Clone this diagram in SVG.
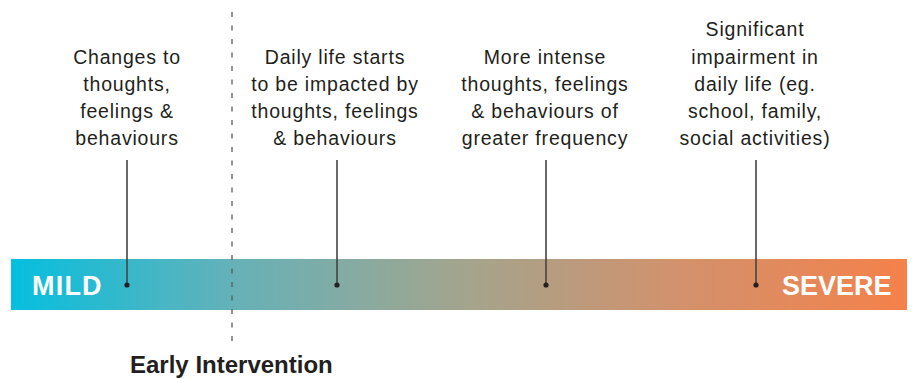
<svg xmlns="http://www.w3.org/2000/svg" width="915" height="379" viewBox="0 0 915 379">
  <defs>
    <linearGradient id="severity" x1="0" y1="0" x2="1" y2="0">
      <stop offset="0" stop-color="#05bfdf"/>
      <stop offset="0.25" stop-color="#66b1b8"/>
      <stop offset="0.5" stop-color="#a2a58e"/>
      <stop offset="0.75" stop-color="#d3916c"/>
      <stop offset="1" stop-color="#f5814a"/>
    </linearGradient>
    <style>
      .label { font-family: "Liberation Sans", Arial, sans-serif; font-size: 19.5px; letter-spacing: 0.8px; fill: #231f20; text-anchor: middle; }
      .end { font-family: "Liberation Sans", Arial, sans-serif; font-size: 27px; font-weight: bold; fill: #ffffff; }
      .title { font-family: "Liberation Sans", Arial, sans-serif; font-size: 24px; font-weight: bold; fill: #231f20; }
      .leader { stroke: #444444; stroke-width: 1.6; fill: none; }
      .pin { fill: #222222; }
      .divider { stroke: #5a5a5a; stroke-width: 1.3; stroke-dasharray: 5 8.5; fill: none; }
    </style>
  </defs>

  <!-- severity scale bar -->
  <g id="scale">
    <rect x="11" y="259" width="896" height="51" fill="url(#severity)"/>
    <text class="end" x="32" y="295" letter-spacing="1.2">MILD</text>
    <text class="end" x="782" y="295">SEVERE</text>
  </g>

  <!-- early intervention divider -->
  <g id="early-intervention">
    <line class="divider" x1="232" y1="12" x2="232" y2="342"/>
    <text class="title" x="130" y="373">Early Intervention</text>
  </g>

  <!-- connectors from stage descriptions to the scale -->
  <g id="connectors">
    <line class="leader" x1="127" y1="160" x2="127" y2="285"/>
    <line class="leader" x1="337" y1="160" x2="337" y2="285"/>
    <line class="leader" x1="546" y1="160" x2="546" y2="285"/>
    <line class="leader" x1="756" y1="160" x2="756" y2="285"/>
    <circle class="pin" cx="127" cy="285" r="2.6"/>
    <circle class="pin" cx="337" cy="285" r="2.6"/>
    <circle class="pin" cx="546" cy="285" r="2.6"/>
    <circle class="pin" cx="756" cy="285" r="2.6"/>
  </g>

  <g id="stage-1">
    <text class="label" x="127" y="64">Changes to</text>
    <text class="label" x="127" y="91">thoughts,</text>
    <text class="label" x="127" y="118">feelings &amp;</text>
    <text class="label" x="127" y="145">behaviours</text>
  </g>

  <g id="stage-2">
    <text class="label" x="335" y="64">Daily life starts</text>
    <text class="label" x="335" y="91">to be impacted by</text>
    <text class="label" x="335" y="118">thoughts, feelings</text>
    <text class="label" x="335" y="145">&amp; behaviours</text>
  </g>

  <g id="stage-3">
    <text class="label" x="545" y="64">More intense</text>
    <text class="label" x="545" y="91">thoughts, feelings</text>
    <text class="label" x="545" y="118">&amp; behaviours of</text>
    <text class="label" x="545" y="145">greater frequency</text>
  </g>

  <g id="stage-4">
    <text class="label" x="755" y="36">Significant</text>
    <text class="label" x="755" y="64">impairment in</text>
    <text class="label" x="755" y="91">daily life (eg.</text>
    <text class="label" x="755" y="118">school, family,</text>
    <text class="label" x="755" y="145">social activities)</text>
  </g>
</svg>
